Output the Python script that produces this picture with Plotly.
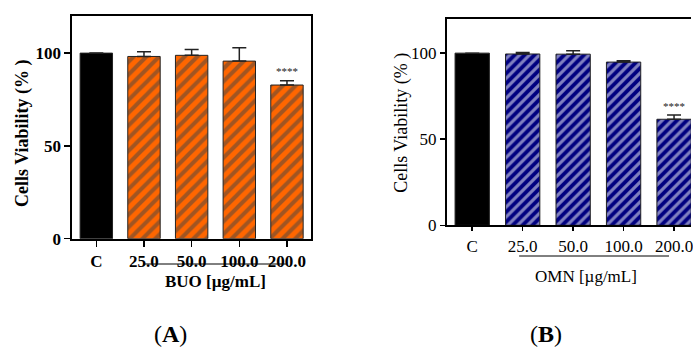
import plotly.graph_objects as go

categories = ["C", "25.0", "50.0", "100.0", "200.0"]
buo_values = [100.0, 98.2, 98.8, 95.7, 82.8]
buo_errors = [0.0, 2.6, 3.2, 7.2, 2.3]
omn_values = [100.0, 99.5, 99.4, 94.8, 61.6]
omn_errors = [0.0, 0.8, 2.0, 0.8, 2.5]
yticks = [0, 50, 100]
sig_label = "****"
sig_index = 4

W, H = 693, 347          # reference pixel frame used for placement
FIG_H = 357              # figure height (page is photographed and fitted to 347)
SERIF = "Liberation Serif, Times New Roman, serif"
ORANGE = "#ff6600"
NAVY = "#000080"
GRAY = "#9a9a9a"

def px_x(v):
    return v / W

def px_y(v):
    return 1 - v / H

fig = go.Figure()

def bar_trace(values, errors, color, psize, xa, ya):
    n = len(values)
    return go.Bar(
        x=list(range(n)), y=values, xaxis=xa, yaxis=ya,
        width=0.68,
        marker=dict(
            color=["#000000"] + [color] * (n - 1),
            line=dict(color="#222222", width=1),
            pattern=dict(
                shape=[""] + ["/"] * (n - 1),
                fgcolor=GRAY,
                size=psize,
                solidity=0.45,
                fillmode="overlay",
            ),
        ),
        error_y=dict(type="data", symmetric=False, array=errors,
                     arrayminus=[0] * n, color="#222222", thickness=1.5, width=7),
        showlegend=False,
    )

fig.add_trace(bar_trace(buo_values, buo_errors, ORANGE, 9, "x", "y"))
fig.add_trace(bar_trace(omn_values, omn_errors, NAVY, 7, "x2", "y2"))

axis_common = dict(showgrid=False, zeroline=False, linecolor="black", linewidth=2,
                   ticks="outside", tickcolor="black", tickwidth=1.5)

fig.update_layout(
    width=W, height=FIG_H, autosize=False,
    margin=dict(l=0, r=0, t=0, b=0),
    paper_bgcolor="white", plot_bgcolor="white",
    xaxis=dict(domain=[px_x(72.7), px_x(311.7)], range=[-0.5, 4.5],
               tickvals=list(range(len(categories))),
               ticktext=["<b>%s</b>" % c for c in categories],
               showline=True, mirror=True, anchor="y", ticklen=6,
               tickfont=dict(family=SERIF, size=17, color="black"), **axis_common),
    yaxis=dict(domain=[px_y(238.7), px_y(16)], range=[0, 120], tickvals=yticks,
               ticktext=["<b>%d</b>" % t for t in yticks],
               showline=True, mirror=True, anchor="x", ticklen=6,
               tickfont=dict(family=SERIF, size=17, color="black"), **axis_common),
    xaxis2=dict(domain=[px_x(448.3), 1.0], range=[-0.5, 4.336],
                tickvals=list(range(len(categories))), ticktext=categories,
                showline=True, mirror=True, anchor="y2", ticklabeloverflow="allow",
                ticklen=4,
                tickfont=dict(family=SERIF, size=17, color="black"), **axis_common),
    yaxis2=dict(domain=[px_y(225.3), px_y(18.7)], range=[0, 120], tickvals=yticks,
                showline=True, mirror=False, anchor="x2", ticklen=5,
                tickfont=dict(family=SERIF, size=17, color="black"), **axis_common),
)

def note(x, y, text, size, angle=0, color="black"):
    fig.add_annotation(x=px_x(x), y=px_y(y), xref="paper", yref="paper",
                       xanchor="center", yanchor="middle", text=text,
                       textangle=angle, showarrow=False,
                       font=dict(family=SERIF, size=size, color=color))

# significance marks
fig.add_annotation(x=sig_index, y=buo_values[sig_index] + buo_errors[sig_index],
                   xref="x", yref="y", text=sig_label, showarrow=False, yshift=10,
                   xanchor="center", font=dict(family=SERIF, size=11, color="#222222"))
fig.add_annotation(x=sig_index, y=omn_values[sig_index] + omn_errors[sig_index],
                   xref="x2", yref="y2", text=sig_label, showarrow=False, yshift=9,
                   xanchor="center", font=dict(family=SERIF, size=11, color="#222222"))

# y titles
note(22, 133, "<b>Cells Viability (% )</b>", 18, -90)
note(402.5, 122.5, "Cells Viability (% )", 18, -90)

# group labels
note(216, 281.7, "<b>BUO [µg/mL]</b>", 17)
note(588, 276.7, "OMN [µg/mL]", 17)

# group underlines
fig.add_shape(type="line", xref="x", yref="paper", x0=0.98, x1=4.0,
              y0=px_y(264), y1=px_y(264), line=dict(color="black", width=1))
fig.add_shape(type="line", xref="x2", yref="paper", x0=0.93, x1=3.9,
              y0=px_y(256), y1=px_y(256), line=dict(color="black", width=1))

# panel letters
note(171, 334, "(<b>A</b>)", 24)
note(548, 334, "(<b>B</b>)", 24)

fig.write_html(
    "out.html",
    config={"displayModeBar": False, "staticPlot": True},
    post_script=("document.body.style.margin='0';"
                 "document.body.style.overflow='hidden';"
                 "var g=document.getElementById('{plot_id}');"
                 "g.style.position='fixed';g.style.top='0';g.style.left='0';"),
)
